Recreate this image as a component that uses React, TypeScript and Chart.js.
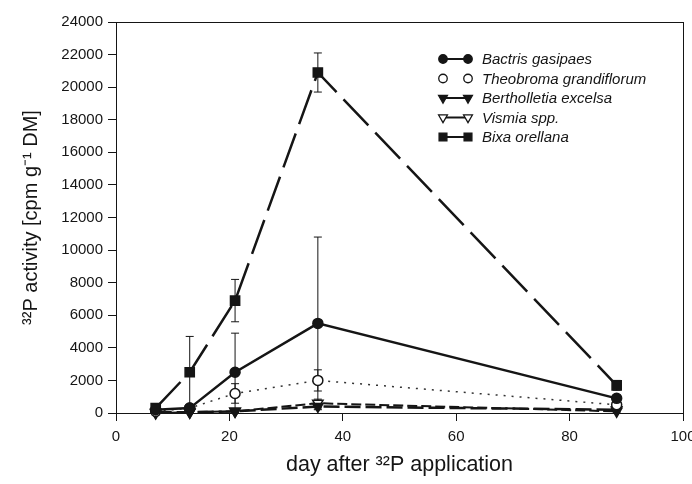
import React, { useEffect, useRef } from 'react';
import { Chart, registerables } from 'chart.js';

Chart.register(...registerables);

// ---- data ----
const days = [7, 13, 21, 35.6, 88.3];

const bactris = [200, 300, 2500, 5500, 900];
const bactrisErr = [100, 150, 2400, 5300, 200];

const theobroma = [100, 300, 1200, 2000, 500];
const theobromaErr = [50, 150, 600, 650, 150];

const bertholletia = [50, 50, 100, 400, 200];
const bertholletiaErr = [20, 20, 50, 150, 50];

const vismia = [0, 50, 100, 600, 100];
const vismiaErr = [0, 20, 50, 250, 50];

const bixa = [300, 2500, 6900, 20900, 1700];
const bixaErr = [100, 2200, 1300, 1200, 300];

const seriesNames = [
  'Bactris gasipaes',
  'Theobroma grandiflorum',
  'Bertholletia excelsa',
  'Vismia spp.',
  'Bixa orellana',
];

const xTitle = 'day after ³²P application';
const yTitle = '³²P activity [cpm g⁻¹ DM]';

const FONT = '"Liberation Sans", Arial, Helvetica, sans-serif';
const INK = '#151515';

const toPts = (vals: number[]) => vals.map((v, i) => ({ x: days[i], y: v }));

function drawMarker(ctx: CanvasRenderingContext2D, style: string, x: number, y: number, r: number, fill: string) {
  ctx.beginPath();
  if (style === 'circle') {
    ctx.arc(x, y, r, 0, Math.PI * 2);
  } else if (style === 'rect') {
    const s = r * Math.SQRT1_2;
    ctx.rect(x - s, y - s, 2 * s, 2 * s);
  } else {
    let rad = Math.PI;
    ctx.moveTo(x + Math.sin(rad) * r, y - Math.cos(rad) * r);
    rad += (2 * Math.PI) / 3;
    ctx.lineTo(x + Math.sin(rad) * r, y - Math.cos(rad) * r);
    rad += (2 * Math.PI) / 3;
    ctx.lineTo(x + Math.sin(rad) * r, y - Math.cos(rad) * r);
    ctx.closePath();
  }
  ctx.fillStyle = fill;
  ctx.fill();
  ctx.stroke();
}

const errorBarPlugin = {
  id: 'errorBars',
  beforeDatasetsDraw(chart: any) {
    const { ctx, scales } = chart;
    const xs = scales.x;
    const ys = scales.y;
    ctx.save();
    ctx.strokeStyle = INK;
    ctx.lineWidth = 1;
    chart.data.datasets.forEach((ds: any) => {
      const errs: number[] = ds.errors;
      if (!errs) return;
      ds.data.forEach((p: any, i: number) => {
        const e = errs[i];
        if (!e) return;
        const px = xs.getPixelForValue(p.x);
        const yt = ys.getPixelForValue(p.y + e);
        const yb = ys.getPixelForValue(Math.max(0, p.y - e));
        ctx.beginPath();
        ctx.moveTo(px, yt);
        ctx.lineTo(px, yb);
        ctx.moveTo(px - 4, yt);
        ctx.lineTo(px + 4, yt);
        ctx.moveTo(px - 4, yb);
        ctx.lineTo(px + 4, yb);
        ctx.stroke();
      });
    });
    ctx.restore();
  },
};

const framePlugin = {
  id: 'frame',
  afterDraw(chart: any) {
    const { ctx, chartArea: a } = chart;
    ctx.save();
    ctx.strokeStyle = INK;
    ctx.lineWidth = 1;
    ctx.strokeRect(a.left + 0.5, a.top + 0.5, a.right - a.left, a.bottom - a.top);
    ctx.restore();
  },
};

const legendPlugin = {
  id: 'customLegend',
  afterDraw(chart: any) {
    const { ctx, chartArea: a } = chart;
    const x1 = a.right - 240;
    const x2 = a.right - 215;
    const tx = a.right - 201;
    const y0 = a.top + 37;
    const dy = 19.5;
    ctx.save();
    chart.data.datasets.forEach((ds: any, i: number) => {
      const y = y0 + i * dy;
      ctx.strokeStyle = INK;
      if (ds.legendLine) {
        ctx.lineWidth = 2;
        ctx.setLineDash([]);
        ctx.beginPath();
        ctx.moveTo(x1, y);
        ctx.lineTo(x2, y);
        ctx.stroke();
      }
      ctx.lineWidth = 1.3;
      const r = ds.pointRadius * 0.85;
      drawMarker(ctx, ds.pointStyle, x1, y, r, ds.pointBackgroundColor);
      drawMarker(ctx, ds.pointStyle, x2, y, r, ds.pointBackgroundColor);
      ctx.fillStyle = INK;
      ctx.font = 'italic 15px ' + FONT;
      ctx.textBaseline = 'middle';
      ctx.textAlign = 'left';
      ctx.fillText(seriesNames[i], tx, y + 1);
    });
    ctx.restore();
  },
};

export default function App() {
  const ref = useRef<HTMLCanvasElement | null>(null);

  useEffect(() => {
    if (!ref.current) return;
    const chart = new Chart(ref.current, {
      type: 'line',
      data: {
        datasets: [
          {
            label: seriesNames[0],
            data: toPts(bactris),
            errors: bactrisErr,
            borderColor: INK,
            borderWidth: 2.5,
            pointStyle: 'circle',
            pointRadius: 5,
            pointBorderWidth: 1.5,
            pointBackgroundColor: INK,
            pointBorderColor: INK,
            legendLine: true,
            order: 1,
          },
          {
            label: seriesNames[1],
            data: toPts(theobroma),
            errors: theobromaErr,
            borderColor: '#333',
            borderWidth: 1.5,
            borderDash: [2, 6],
            pointStyle: 'circle',
            pointRadius: 5,
            pointBorderWidth: 1.5,
            pointBackgroundColor: '#ffffff',
            pointBorderColor: INK,
            legendLine: false,
            order: 2,
          },
          {
            label: seriesNames[2],
            data: toPts(bertholletia),
            errors: bertholletiaErr,
            borderColor: INK,
            borderWidth: 2.5,
            borderDash: [16, 5],
            pointStyle: 'triangle',
            rotation: 180,
            pointRadius: 6,
            pointBorderWidth: 1.5,
            pointBackgroundColor: INK,
            pointBorderColor: INK,
            legendLine: true,
            order: 3,
          },
          {
            label: seriesNames[3],
            data: toPts(vismia),
            errors: vismiaErr,
            borderColor: INK,
            borderWidth: 2,
            borderDash: [10, 4],
            pointStyle: 'triangle',
            rotation: 180,
            pointRadius: 6,
            pointBorderWidth: 1.5,
            pointBackgroundColor: '#ffffff',
            pointBorderColor: INK,
            legendLine: true,
            order: 4,
          },
          {
            label: seriesNames[4],
            data: toPts(bixa),
            errors: bixaErr,
            borderColor: INK,
            borderWidth: 2.5,
            borderDash: [36, 10],
            pointStyle: 'rect',
            pointRadius: 6.5,
            pointBorderWidth: 1.5,
            pointBackgroundColor: INK,
            pointBorderColor: INK,
            legendLine: true,
            order: 0,
          },
        ] as any,
      },
      options: {
        responsive: false,
        animation: false,
        devicePixelRatio: 1,
        layout: { padding: { left: 0, top: 22, right: 9, bottom: 0 } },
        elements: { line: { tension: 0 } },
        datasets: { line: { clip: false } as any },
        plugins: {
          legend: { display: false },
          tooltip: { enabled: false },
        },
        scales: {
          x: {
            type: 'linear',
            min: 0,
            max: 100,
            ticks: {
              stepSize: 20,
              color: INK,
              padding: 7,
              font: { family: FONT, size: 15 },
              callback: (v: any) => String(v),
            },
            grid: {
              display: true,
              drawOnChartArea: false,
              drawTicks: true,
              tickLength: 8,
              color: INK,
            },
            border: { display: true, color: INK, width: 1 },
            title: {
              display: true,
              text: xTitle,
              color: INK,
              font: { family: FONT, size: 21.5 },
              padding: { top: 0, bottom: 6 },
            },
            afterFit(scale: any) {
              scale.height = 71;
              scale.paddingLeft = 0;
              scale.paddingRight = 0;
            },
          },
          y: {
            type: 'linear',
            min: 0,
            max: 24000,
            ticks: {
              stepSize: 2000,
              color: INK,
              padding: 5,
              font: { family: FONT, size: 15 },
              callback: (v: any) => String(v),
            },
            grid: {
              display: true,
              drawOnChartArea: false,
              drawTicks: true,
              tickLength: 8,
              color: INK,
            },
            border: { display: true, color: INK, width: 1 },
            title: {
              display: true,
              text: yTitle,
              color: INK,
              font: { family: FONT, size: 20 },
              padding: { top: 19, bottom: 0 },
            },
            afterFit(scale: any) {
              scale.width = 116;
              scale.paddingTop = 0;
              scale.paddingBottom = 0;
            },
          },
        },
      },
      plugins: [errorBarPlugin, framePlugin, legendPlugin],
    });
    return () => chart.destroy();
  }, []);

  return (
    <div style={{ position: 'fixed', left: 0, top: 0, width: 692, height: 484, background: '#ffffff' }}>
      <canvas ref={ref} width={692} height={484} style={{ display: 'block' }} />
    </div>
  );
}
